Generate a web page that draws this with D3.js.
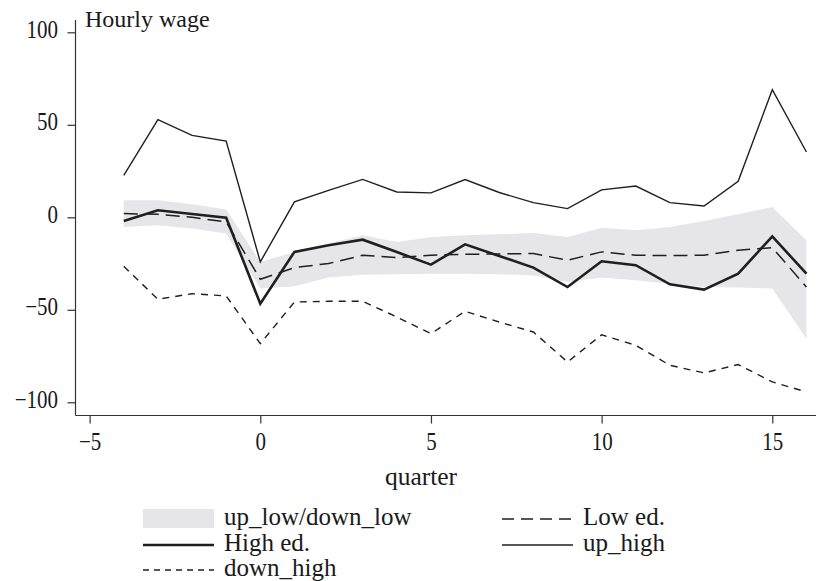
<!DOCTYPE html>
<html>
<head>
<meta charset="utf-8">
<script src="https://cdnjs.cloudflare.com/ajax/libs/d3/7.8.5/d3.min.js"></script>
<style>
  html, body { margin: 0; padding: 0; background: #fff; }
  svg { display: block; }
  text { font-family: "Liberation Serif", "Times New Roman", serif; fill: #1a1a1a; }
</style>
</head>
<body>
<svg id="chart" width="818" height="581"></svg>
<script>
// Quarters relative to the event
const quarters = [-4, -3, -2, -1, 0, 1, 2, 3, 4, 5, 6, 7, 8, 9, 10, 11, 12, 13, 14, 15, 16];

// Shaded band: up_low / down_low
const bandUpper = [9.2, 9.2, 7, 4.2, -24.2, -18.7, -14.2, -9.7, -13.3, -10.6, -9.7, -9.2, -8.5, -10.6, -5.7, -7, -5.2, -2, 1.6, 5.6, -12.4];
const bandLower = [-5.2, -4.3, -6.1, -8.8, -38.5, -37.3, -32.6, -31, -30.8, -30.5, -30.5, -30.8, -31.4, -35, -32.5, -34, -35.9, -37.7, -38, -38.5, -65.6];

// Point estimates
const lowEd    = [2, 1.6, 0, -2.5, -33.5, -27.2, -25, -20.5, -21.8, -20.5, -20, -19.8, -19.6, -23.2, -18.7, -20.5, -20.7, -20.5, -17.8, -16.4, -37.7];
const highEd   = [-2, 3.8, 1.8, -0.2, -46.7, -18.7, -15.1, -12.1, -18.8, -25.6, -14.6, -20.9, -27.2, -37.7, -23.8, -25.9, -36.2, -39.1, -30.5, -10.3, -30.5];
const upHigh   = [22.7, 52.8, 44.3, 41.2, -24.1, 8.3, 14.6, 20.5, 13.7, 13.2, 20.4, 13.4, 7.9, 4.7, 14.8, 16.9, 7.9, 6.1, 19.5, 69, 35.3];
const downHigh = [-26.5, -44.3, -41.3, -42.5, -68.3, -45.8, -45.4, -45.4, -53.9, -62.9, -50.8, -56.6, -62, -78.2, -63.5, -69.2, -80, -84.1, -79.6, -89, -94.4];

// Axis ticks
const xTicks = [-5, 0, 5, 10, 15];
const yTicks = [100, 50, 0, -50, -100];

const svg = d3.select("#chart");

const x = d3.scaleLinear().domain([0, 15]).range([260.3, 772.3]);
const y = d3.scaleLinear().domain([0, 100]).range([217.3, 32.3]);

const axisX0 = 75.5, axisY0 = 415.5;

const ink = "#1f1f1f";

// Band
const area = d3.area()
  .x((d, i) => x(quarters[i]))
  .y0((d, i) => y(bandLower[i]))
  .y1((d, i) => y(bandUpper[i]));
svg.append("path")
  .attr("d", area(quarters))
  .attr("fill", "#e6e6e8");

const line = vals => d3.line()
  .x((d, i) => x(quarters[i]))
  .y((d, i) => y(vals[i]))(quarters);

const series = [
  { vals: upHigh,   width: 1.4, dash: null },
  { vals: downHigh, width: 1.4, dash: "7,6" },
  { vals: lowEd,    width: 1.5, dash: "14,7" },
  { vals: highEd,   width: 2.6, dash: null }
];
series.forEach(s => {
  svg.append("path")
    .attr("d", line(s.vals))
    .attr("fill", "none")
    .attr("stroke", ink)
    .attr("stroke-width", s.width)
    .attr("stroke-linejoin", "miter")
    .attr("stroke-dasharray", s.dash);
});

// Axes
const fmt = d => d < 0 ? "\u2212" + Math.abs(d) : d;
const squeeze = 0.84;   // tick labels use a narrow serif look

const yAxis = svg.append("g").attr("transform", `translate(${axisX0},0)`)
  .call(d3.axisLeft(y).tickValues(yTicks).tickSize(8).tickSizeOuter(0).tickFormat(fmt));
yAxis.select(".domain").attr("d", `M0,20V${axisY0}`);

const xAxis = svg.append("g").attr("transform", `translate(0,${axisY0})`)
  .call(d3.axisBottom(x).tickValues(xTicks).tickSize(8).tickSizeOuter(0).tickFormat(fmt));
xAxis.select(".domain").attr("d", `M${axisX0},0H816`);

[yAxis, xAxis].forEach(g => {
  g.selectAll(".domain, line").attr("stroke", "#333").attr("stroke-width", 1.2);
  g.selectAll("text")
    .style("font-family", "'Liberation Serif', serif")
    .style("font-size", "25px")
    .attr("fill", ink)
    .attr("transform", `scale(${squeeze},1)`);
});
yAxis.selectAll("text").attr("x", -17.5 / squeeze).attr("y", -3);
xAxis.selectAll("text").attr("y", 16.5);

// Titles
svg.append("text").attr("x", 85).attr("y", 27)
  .style("font-size", "24px").text("Hourly wage");
svg.append("text").attr("x", 421).attr("y", 485)
  .attr("text-anchor", "middle")
  .style("font-size", "25.5px").text("quarter");

// Legend
const legend = [
  { label: "up_low/down_low", type: "band", col: 0, row: 0 },
  { label: "Low ed.", type: "line", width: 1.5, dash: "12,7", col: 1, row: 0 },
  { label: "High ed.", type: "line", width: 2.6, dash: null, col: 0, row: 1 },
  { label: "up_high", type: "line", width: 1.4, dash: null, col: 1, row: 1 },
  { label: "down_high", type: "line", width: 1.4, dash: "6,5", col: 0, row: 2 }
];
const colX = [143, 502], rowY = [518, 544, 569], symW = 71;
legend.forEach(d => {
  const gx = colX[d.col], gy = rowY[d.row];
  if (d.type === "band") {
    svg.append("rect").attr("x", gx).attr("y", gy - 9).attr("width", symW).attr("height", 19)
      .attr("fill", "#e6e6e8");
  } else {
    svg.append("line").attr("x1", gx).attr("x2", gx + symW)
      .attr("y1", gy + 1).attr("y2", gy + 1)
      .attr("stroke", ink).attr("stroke-width", d.width)
      .attr("stroke-dasharray", d.dash);
  }
  svg.append("text").attr("x", gx + symW + 10).attr("y", gy + 7)
    .style("font-size", "25px").text(d.label);
});
</script>
</body>
</html>
